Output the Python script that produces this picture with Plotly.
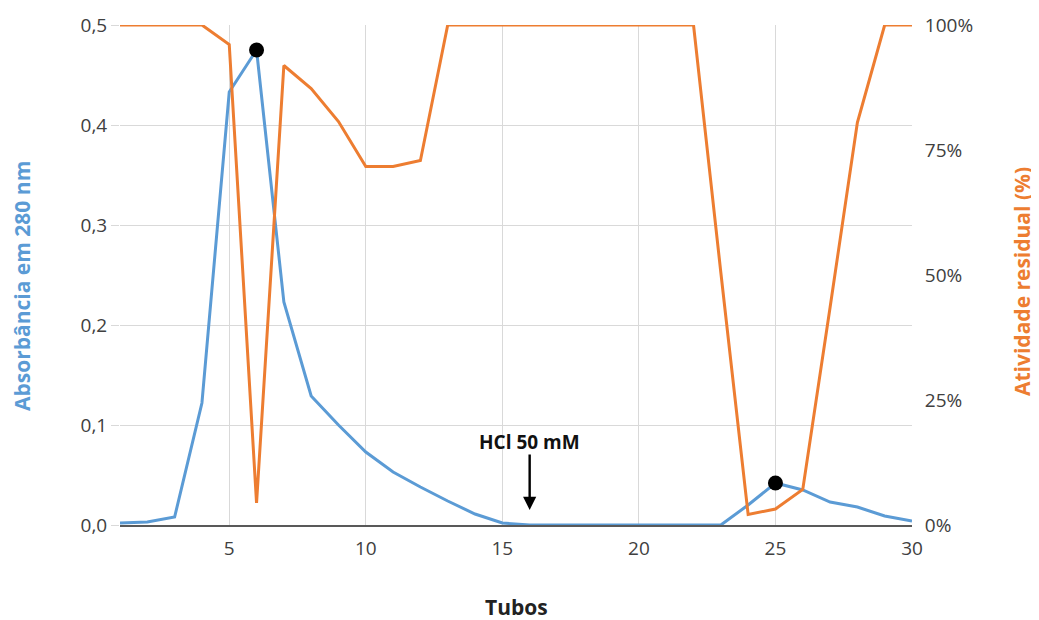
import plotly.graph_objects as go

tubos = list(range(1, 31))
absorbancia = [0.002, 0.003, 0.008, 0.122, 0.433, 0.475, 0.223, 0.129, 0.100, 0.073,
               0.053, 0.038, 0.024, 0.011, 0.002, 0.0, 0.0, 0.0, 0.0, 0.0,
               0.0, 0.0, 0.0, 0.020, 0.042, 0.035, 0.023, 0.018, 0.009, 0.004]
atividade = [100, 100, 100, 100, 96.1, 4.4, 91.9, 87.3, 80.7, 71.7,
             71.7, 72.9, 100, 100, 100, 100, 100, 100, 100, 100,
             100, 100, 50.5, 2.1, 3.2, 7.1, 43.5, 80.5, 100, 100]
pico_x = [6, 25]
pico_y = [0.475, 0.042]
anot_x = 16
anot_texto = "HCl 50 mM"
x_ticks = [5, 10, 15, 20, 25, 30]
y_ticks = [0, 0.1, 0.2, 0.3, 0.4, 0.5]
y2_ticks = [0, 25, 50, 75, 100]
y2_labels = ["0%", "25%", "50%", "75%", "100%"]

BLUE = "#5B9BD5"
ORANGE = "#ED7D31"
FONT = "Open Sans"
TICK = dict(size=19, color="#404040")

fig = go.Figure()
fig.add_trace(go.Scatter(x=tubos, y=absorbancia, mode="lines",
                         line=dict(color=BLUE, width=3), yaxis="y", showlegend=False))
fig.add_trace(go.Scatter(x=tubos, y=atividade, mode="lines",
                         line=dict(color=ORANGE, width=3), yaxis="y2", showlegend=False))
fig.add_trace(go.Scatter(x=pico_x, y=pico_y, mode="markers",
                         marker=dict(color="black", size=15), yaxis="y", showlegend=False))

fig.add_annotation(x=anot_x, y=0.015, xref="x", yref="y", ax=0, ay=-57,
                   showarrow=True, arrowhead=2, arrowsize=1.1, arrowwidth=2.4,
                   arrowcolor="black", text="")
fig.add_annotation(x=anot_x, y=0.083, xref="x", yref="y", showarrow=False,
                   text="<b>" + anot_texto + "</b>",
                   font=dict(family=FONT, size=19, color="#111111"))

# axis titles
fig.add_annotation(x=0, y=0.478, xref="paper", yref="paper", xshift=-98,
                   showarrow=False, textangle=-90, xanchor="center", yanchor="middle",
                   text="<b>Absorbância em 280 nm</b>",
                   font=dict(family=FONT, size=21, color=BLUE))
fig.add_annotation(x=1, y=0.486, xref="paper", yref="paper", xshift=110,
                   showarrow=False, textangle=-90, xanchor="center", yanchor="middle",
                   text="<b>Atividade residual (%)</b>",
                   font=dict(family=FONT, size=21, color=ORANGE))
fig.add_annotation(x=0.5, y=0, xref="paper", yref="paper", yshift=-82,
                   showarrow=False, xanchor="center", yanchor="middle",
                   text="<b>Tubos</b>",
                   font=dict(family=FONT, size=21, color="#222222"))

fig.update_layout(
    width=1039, height=612,
    margin=dict(l=112, r=135, t=17, b=95, autoexpand=False),
    plot_bgcolor="white", paper_bgcolor="white",
    separators=", ",
    font=dict(family=FONT, size=19, color="#404040"),
    xaxis=dict(range=[1, 30], tickvals=x_ticks, automargin=False,
               showgrid=True, gridcolor="#D9D9D9", gridwidth=1,
               zeroline=False, showline=True, linecolor="#595959", linewidth=2,
               ticks="outside", ticklen=5, tickcolor="rgba(0,0,0,0)", tickfont=TICK),
    yaxis=dict(range=[0, 0.5], tickvals=y_ticks, tickformat=".1f", automargin=False,
               showgrid=True, gridcolor="#D9D9D9", gridwidth=1, zeroline=False,
               ticks="outside", ticklen=8, tickcolor="#D9D9D9", tickfont=TICK),
    yaxis2=dict(range=[0, 100], tickvals=y2_ticks, ticktext=y2_labels, automargin=False,
                overlaying="y", side="right", showgrid=False, zeroline=False,
                ticks="outside", ticklen=8, tickcolor="rgba(0,0,0,0)", tickfont=TICK),
)

fig.write_html("out.html")
